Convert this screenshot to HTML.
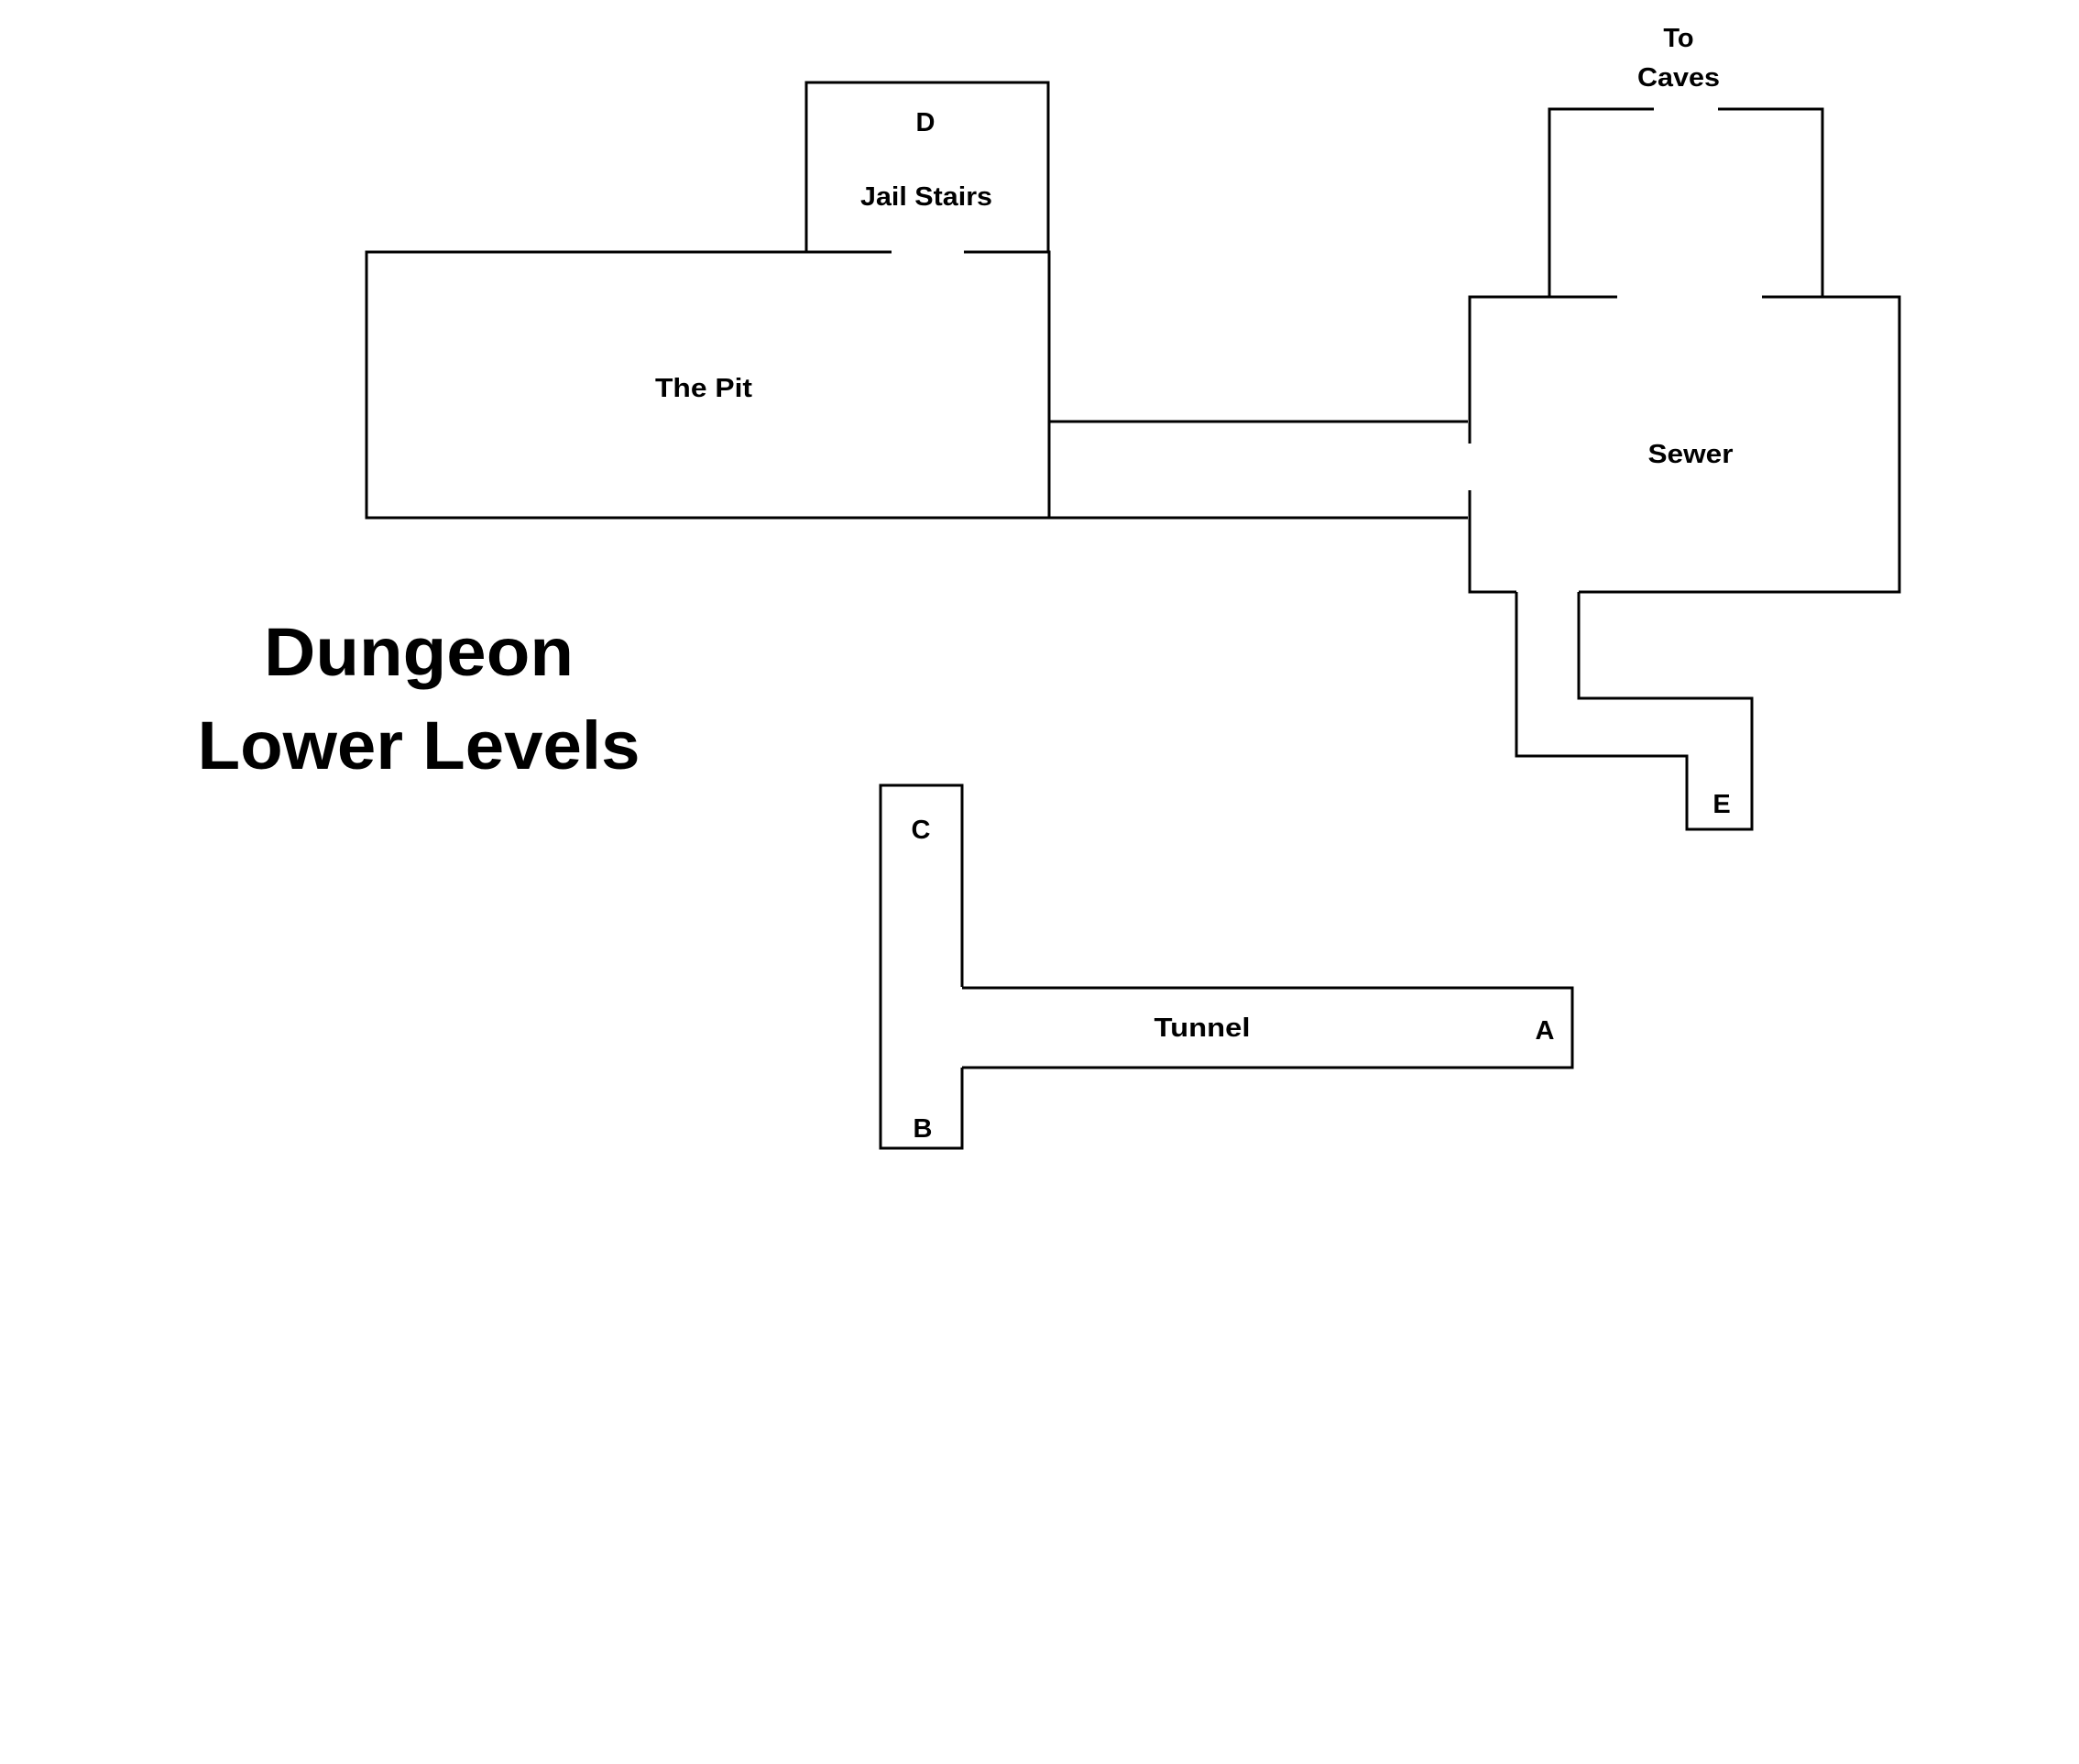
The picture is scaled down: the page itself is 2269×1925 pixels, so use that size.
<!DOCTYPE html>
<html><head><meta charset="utf-8"><style>html,body{margin:0;padding:0;background:#fff}svg{display:block}</style></head>
<body>
<svg width="2269" height="1925" viewBox="0 0 2269 1925" xmlns="http://www.w3.org/2000/svg">
<rect width="2269" height="1925" fill="#fff"/>
<g fill="none" stroke="#000" stroke-width="3">
<polyline points="880,274 880,90 1144,90 1144,274"/>
<polyline points="973,275 400,275 400,565 1145,565 1145,275 1052,275"/>
<line x1="1145" y1="460" x2="1602" y2="460"/>
<line x1="1145" y1="565" x2="1602" y2="565"/>
<polyline points="1805,119 1691,119 1691,324"/>
<polyline points="1875,119 1989,119 1989,324"/>
<polyline points="1765,324 1604,324 1604,484"/>
<polyline points="1604,535 1604,646 1655,646"/>
<polyline points="1723,646 2073,646 2073,324 1923,324"/>
<polyline points="1655,646 1655,825 1841,825 1841,905 1912,905 1912,762 1723,762 1723,646"/>
<polyline points="1050,1077 1050,857 961,857 961,1253 1050,1253 1050,1165"/>
<polyline points="1050,1078 1716,1078 1716,1165 1050,1165"/>
</g>
<g font-family="Liberation Sans, DejaVu Sans, sans-serif" font-weight="bold" fill="#000" text-anchor="middle">
<text x="1010" y="143" font-size="29">D</text>
<text x="1011" y="224" font-size="29" textLength="144" lengthAdjust="spacingAndGlyphs">Jail Stairs</text>
<text x="768" y="433" font-size="29" textLength="106" lengthAdjust="spacingAndGlyphs">The Pit</text>
<text x="1845" y="505" font-size="29" textLength="93" lengthAdjust="spacingAndGlyphs">Sewer</text>
<text x="1832" y="51" font-size="29">To</text>
<text x="1832" y="94" font-size="29" textLength="90" lengthAdjust="spacingAndGlyphs">Caves</text>
<text x="1879" y="887" font-size="29">E</text>
<text x="1005" y="915" font-size="29">C</text>
<text x="1007" y="1241" font-size="29">B</text>
<text x="1312" y="1131" font-size="29" textLength="105" lengthAdjust="spacingAndGlyphs">Tunnel</text>
<text x="1686" y="1134" font-size="29">A</text>
<text x="457" y="737" font-size="74" textLength="338" lengthAdjust="spacingAndGlyphs">Dungeon</text>
<text x="457" y="839" font-size="74" textLength="483" lengthAdjust="spacingAndGlyphs">Lower Levels</text>
</g>
</svg>
</body></html>
